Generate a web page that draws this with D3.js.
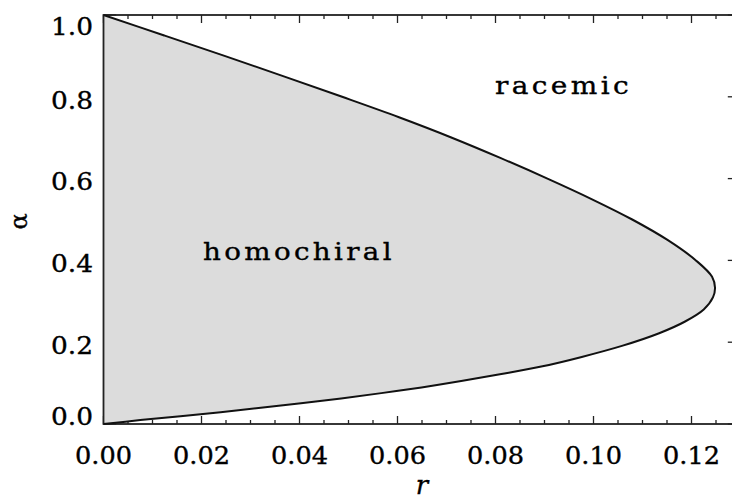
<!DOCTYPE html>
<html>
<head>
<meta charset="utf-8">
<script src="https://cdn.jsdelivr.net/npm/d3@7"></script>
<style>
  html, body { margin: 0; padding: 0; background: #fff; }
  svg { display: block; }
  text { font-family: "DejaVu Serif", "Liberation Serif", serif; fill: #000; stroke: #000; stroke-width: 0.35; }
</style>
</head>
<body>
<svg id="chart" width="732" height="500"></svg>
<script>
// Boundary curve: alpha (vertical) and r (horizontal)
const alphaValues = [0, 0.0095, 0.019, 0.029, 0.0395, 0.0505, 0.0625, 0.0755, 0.0895, 0.105, 0.122, 0.141, 0.164, 0.191, 0.222, 0.25, 0.28, 0.31, 0.333, 0.36, 0.40, 0.45, 0.50, 0.55, 0.60, 0.65, 0.70, 0.75, 0.80, 0.85, 0.90, 0.95, 1.0];
const rValues     = [0, 0.0075, 0.0157, 0.0239, 0.0321, 0.0403, 0.0485, 0.0567, 0.0649, 0.0730, 0.0812, 0.0896, 0.0976, 0.1058, 0.1134, 0.1186, 0.1225, 0.1244, 0.1248, 0.1242, 0.1209, 0.1151, 0.1079, 0.0996, 0.0906, 0.0811, 0.0711, 0.0603, 0.0487, 0.0368, 0.0247, 0.0124, 0];

const xTickLabels = ["0.00", "0.02", "0.04", "0.06", "0.08", "0.10", "0.12"];
const yTickLabels = ["0.0", "0.2", "0.4", "0.6", "0.8", "1.0"];
const regionLabels = ["homochiral", "racemic"];
const xTitle = "r";
const yTitle = "α";

const svg = d3.select("#chart");
const pL = 103.5, pR = 740.5, pT = 15, pB = 424;

const x = d3.scaleLinear().domain([0, 0.13]).range([pL, pR]);
const y = d3.scaleLinear().domain([0, 1]).range([pB, pT]);

const pts = alphaValues.map((a, i) => ({ a, r: rValues[i] }));

// Ticks (drawn first, the filled region covers some of them)
const ticks = svg.append("g").attr("stroke", "#222").attr("stroke-width", 1.3);
const xMinor = d3.range(0, 0.1301, 0.005);
xMinor.forEach((v, i) => {
  const major = i % 4 === 0;
  const len = major ? 8 : 4;
  ticks.append("line").attr("x1", x(v)).attr("x2", x(v)).attr("y1", pB).attr("y2", pB - len);
  ticks.append("line").attr("x1", x(v)).attr("x2", x(v)).attr("y1", pT).attr("y2", pT + len);
});
const yMinor = d3.range(0, 1.0001, 0.05);
yMinor.forEach((v, i) => {
  const major = i % 4 === 0;
  const len = major ? 12.7 : 6.4;
  ticks.append("line").attr("x1", pL).attr("x2", pL + len).attr("y1", y(v)).attr("y2", y(v));
  ticks.append("line").attr("x1", pR).attr("x2", pR - len).attr("y1", y(v)).attr("y2", y(v));
});

// Filled homochiral region
const line = d3.line().x(d => x(d.r)).y(d => y(d.a)).curve(d3.curveCatmullRom.alpha(0.5));
svg.append("path")
  .attr("d", line(pts) + "Z")
  .attr("fill", "#dcdcdc")
  .attr("stroke", "none");

// Axis lines
svg.append("rect")
  .attr("x", pL).attr("y", pT)
  .attr("width", pR - pL).attr("height", pB - pT)
  .attr("fill", "none").attr("stroke", "#222").attr("stroke-width", 1.8);

// Boundary curve
svg.append("path")
  .attr("d", line(pts))
  .attr("fill", "none")
  .attr("stroke", "#111")
  .attr("stroke-width", 2);

// Tick labels
xTickLabels.forEach(t => {
  svg.append("text")
    .attr("x", x(+t)).attr("y", 464)
    .attr("text-anchor", "middle")
    .attr("font-size", 24)
    .attr("textLength", 57).attr("lengthAdjust", "spacingAndGlyphs")
    .text(t);
});
yTickLabels.forEach(t => {
  const c = Math.max(26.5, Math.min(416.5, y(+t) + 3));
  svg.append("text")
    .attr("x", 93).attr("y", c + 8.7)
    .attr("text-anchor", "end")
    .attr("font-size", 24)
    .attr("textLength", 42).attr("lengthAdjust", "spacingAndGlyphs")
    .text(t);
});

// Axis titles
svg.append("text")
  .attr("x", (pL + pR) / 2).attr("y", 494)
  .attr("text-anchor", "middle")
  .attr("font-size", 26)
  .attr("font-style", "italic")
  .text(xTitle);
svg.append("text")
  .attr("transform", `translate(27,${(pT + pB) / 2 + 2}) rotate(-90)`)
  .attr("text-anchor", "middle")
  .attr("font-size", 24)
  .text(yTitle);

// Region annotations
svg.append("text")
  .attr("x", x(0.0203)).attr("y", y(0.40))
  .attr("font-size", 25)
  .attr("letter-spacing", 3)
  .attr("textLength", 192).attr("lengthAdjust", "spacingAndGlyphs")
  .text(regionLabels[0]);
svg.append("text")
  .attr("x", x(0.0799)).attr("y", y(0.807))
  .attr("font-size", 25)
  .attr("letter-spacing", 3)
  .attr("textLength", 137).attr("lengthAdjust", "spacingAndGlyphs")
  .text(regionLabels[1]);
</script>
</body>
</html>
